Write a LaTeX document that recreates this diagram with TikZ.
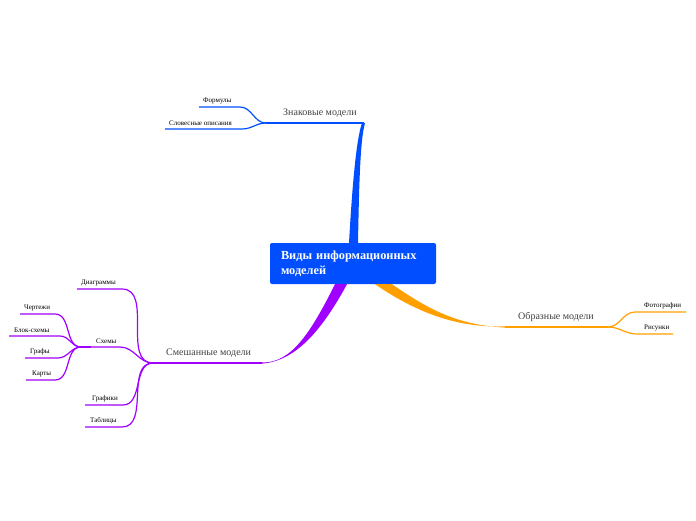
\documentclass[tikz,border=0pt]{standalone}
\usepackage{fontspec}
\setmainfont{Liberation Serif}
\usetikzlibrary{positioning}

\definecolor{znblue}{HTML}{004EFF}
\definecolor{oborange}{HTML}{FFA000}
\definecolor{smpurple}{HTML}{A000FF}

\tikzset{
  root/.style={fill=znblue, rounded corners=2pt, text=white, align=left,
    minimum width=166pt, minimum height=41pt, inner xsep=11pt,
    text width=144pt, font=\fontsize{12.3}{15}\selectfont\bfseries},
  topic/.style={font=\fontsize{10}{11}\selectfont, text=black!75, inner sep=1pt},
  leaf/.style={font=\fontsize{7}{8}\selectfont, text=black, inner sep=1pt},
  mainline/.style={line width=1.4pt},
  leafline/.style={line width=1.2pt},
}

\begin{document}
\begin{tikzpicture}[x=1pt, y=-1pt]
	\useasboundingbox (0,0) rectangle (696,520);
	
	\node[root] (root) at (353,263.5) {Виды информационных\\моделей};
	
	% Знаковые модели
	\coordinate (zn-hub) at (266,123);
	\coordinate (zn-end) at (364,123);
	\fill[znblue] ([xshift=-4pt]root.north) .. controls (352,190) and (356,140) .. ([xshift=-2pt]zn-end) -- ([xshift=1pt]zn-end) .. controls (360,140) and (359,190) .. ([xshift=5pt]root.north) -- cycle;
	\draw[znblue, mainline] (zn-hub) -- (zn-end);
	\node[topic, above right=4pt and 16pt of zn-hub, anchor=south west] (znak) {Знаковые модели};
	
	\coordinate (formuly-l) at (199,107);
	\coordinate (formuly-r) at (240,107);
	\coordinate (slovesn-l) at (165,129);
	\coordinate (slovesn-r) at (242,129);
	\draw[znblue, leafline] (formuly-l) -- (formuly-r) to[out=0, in=180] (zn-hub);
	\draw[znblue, leafline] (slovesn-l) -- (slovesn-r) to[out=0, in=180] (zn-hub);
	\node[leaf, above right=2pt and 3pt of formuly-l, anchor=south west] (formuly) {Формулы};
	\node[leaf, above right=2pt and 3pt of slovesn-l, anchor=south west] (slovesn) {Словесные описания};
	
	% Образные модели
	\coordinate (ob-start) at (505,327);
	\coordinate (ob-hub) at (608,327);
	\fill[oborange] ([xshift=22pt]root.south) .. controls (420,315) and (460,327.8) .. ([yshift=0.6pt]ob-start) -- ([yshift=-0.6pt]ob-start) .. controls (460,325) and (432,312) .. ([xshift=39pt]root.south) -- cycle;
	\draw[oborange, mainline] (ob-start) -- (ob-hub);
	\node[topic, above right=4pt and 12pt of ob-start, anchor=south west] (obraz) {Образные модели};
	
	\coordinate (foto-l) at (635,312);
	\coordinate (foto-r) at (686,312);
	\coordinate (risun-l) at (637,334);
	\coordinate (risun-r) at (673,334);
	\draw[oborange, leafline] (ob-hub) to[out=0, in=180] (foto-l) -- (foto-r);
	\draw[oborange, leafline] (ob-hub) to[out=0, in=180] (risun-l) -- (risun-r);
	\node[leaf, above right=2pt and 8pt of foto-l, anchor=south west] (foto) {Фотографии};
	\node[leaf, above right=2pt and 6pt of risun-l, anchor=south west] (risun) {Рисунки};
	
	% Смешанные модели
	\coordinate (sm-hub) at (153,363);
	\coordinate (sm-end) at (262,363);
	\fill[smpurple] ([xshift=-18pt]root.south) .. controls (312,330) and (292,363.6) .. ([yshift=0.6pt]sm-end) -- ([yshift=-0.6pt]sm-end) .. controls (296,361) and (322,330) .. ([xshift=-6pt]root.south) -- cycle;
	\draw[smpurple, mainline] (sm-hub) -- (sm-end);
	\node[topic, above right=4pt and 12pt of sm-hub, anchor=south west] (smesh) {Смешанные модели};
	
	\coordinate (diagr-l) at (77,289);
	\coordinate (diagr-r) at (122,289);
	\coordinate (skhem-l) at (81,347);
	\coordinate (skhem-r) at (120,347);
	\coordinate (grafik-l) at (85,405);
	\coordinate (grafik-r) at (123,405);
	\coordinate (tabl-l) at (85,427);
	\coordinate (tabl-r) at (122,427);
	\draw[smpurple, leafline] (diagr-l) -- (diagr-r) to[out=0, in=180] (sm-hub);
	\draw[smpurple, leafline] (skhem-l) -- (skhem-r) to[out=0, in=180] (sm-hub);
	\draw[smpurple, leafline] (grafik-l) -- (grafik-r) to[out=0, in=180] (sm-hub);
	\draw[smpurple, leafline] (tabl-l) -- (tabl-r) to[out=0, in=180] (sm-hub);
	\draw[smpurple, line width=2.2pt] (skhem-l) -- ++(10,0);
	\node[leaf, above right=2pt and 14pt of skhem-l, anchor=south west] (skhem) {Схемы};
	\node[leaf, above right=2pt and 3pt of diagr-l, anchor=south west] (diagr) {Диаграммы};
	\node[leaf, above right=2pt and 6pt of grafik-l, anchor=south west] (grafik) {Графики};
	\node[leaf, above right=2pt and 4pt of tabl-l, anchor=south west] (tabl) {Таблицы};
	
	\coordinate (chert-l) at (20,314);
	\coordinate (chert-r) at (55,314);
	\coordinate (blok-l) at (9,336);
	\coordinate (blok-r) at (60,336);
	\coordinate (grafy-l) at (25,358);
	\coordinate (grafy-r) at (58,358);
	\coordinate (karty-l) at (26,380);
	\coordinate (karty-r) at (55,380);
	\draw[smpurple, leafline] (chert-l) -- (chert-r) to[out=0, in=180] (skhem-l);
	\draw[smpurple, leafline] (blok-l) -- (blok-r) to[out=0, in=180] (skhem-l);
	\draw[smpurple, leafline] (grafy-l) -- (grafy-r) to[out=0, in=180] (skhem-l);
	\draw[smpurple, leafline] (karty-l) -- (karty-r) to[out=0, in=180] (skhem-l);
	\node[leaf, above right=2pt and 3pt of chert-l, anchor=south west] (chert) {Чертежи};
	\node[leaf, above right=2pt and 4pt of blok-l, anchor=south west] (blok) {Блок-схемы};
	\node[leaf, above right=2pt and 4pt of grafy-l, anchor=south west] (grafy) {Графы};
	\node[leaf, above right=2pt and 5pt of karty-l, anchor=south west] (karty) {Карты};
\end{tikzpicture}
\end{document}
